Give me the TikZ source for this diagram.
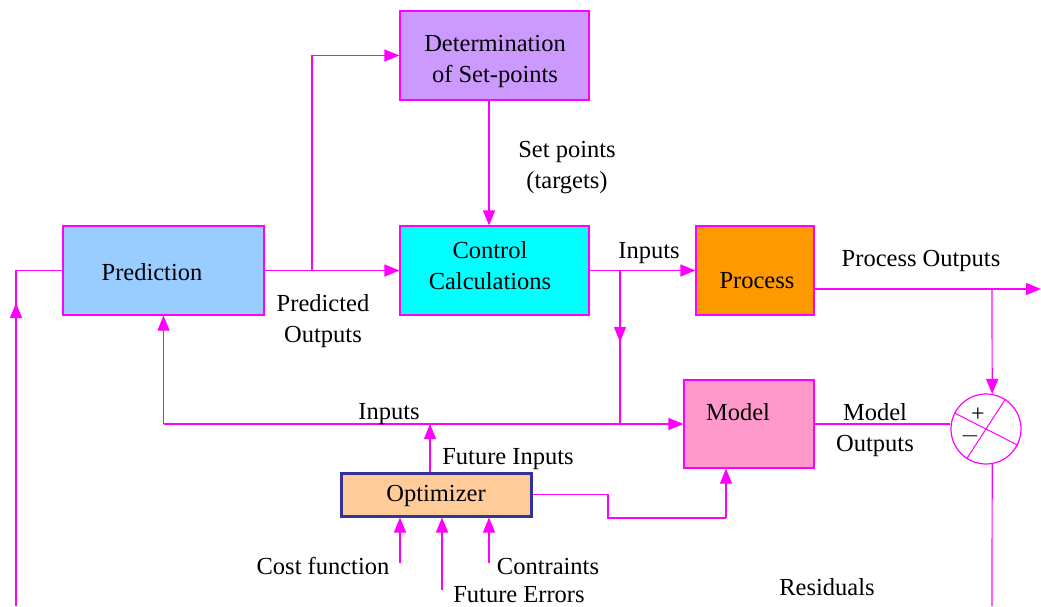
\documentclass[tikz,border=0pt]{standalone}
\usepackage{fontspec}
\setmainfont{Liberation Serif}
\usetikzlibrary{arrows.meta,calc}

\definecolor{wirecol}{HTML}{FF00FF}
\definecolor{detfill}{HTML}{CC99FF}
\definecolor{ctrlfill}{HTML}{00FFFF}
\definecolor{predfill}{HTML}{99CCFF}
\definecolor{procfill}{HTML}{FF9900}
\definecolor{modelfill}{HTML}{FF99CC}
\definecolor{optfill}{HTML}{FFCC99}
\definecolor{optline}{HTML}{333399}

\tikzset{
  blockbox/.style={draw=wirecol, line width=1.2pt, rectangle, inner sep=0pt},
  wire/.style={draw=wirecol, line width=1.2pt},
  arr/.style={wire, -{Triangle[length=15pt,width=12pt]}},
  txt/.style={font=\fontsize{24.5}{31}\selectfont, align=center, inner sep=0pt},
  sign/.style={font=\fontsize{24}{26}\selectfont, inner sep=0pt,
               text height=11pt, text depth=0pt, anchor=base},
}

\begin{document}
\begin{tikzpicture}[x=1pt, y=-1pt]
\useasboundingbox (0,0) rectangle (1041,606);

% blocks
\node[blockbox, fill=detfill, minimum width=189, minimum height=89] (det) at (494.5,55.5) {};
\node[txt] (dettext) at (495,61) {Determination\\of Set-points};
\node[blockbox, fill=ctrlfill, minimum width=189, minimum height=89] (ctrl) at (494.5,270.5) {};
\node[txt] (ctrltext) at (490,266) {Control\\Calculations};
\node[blockbox, fill=predfill, minimum width=201, minimum height=89] (pred) at (163.5,270.5) {};
\node[txt] (predtext) at (152,272) {Prediction};
\node[blockbox, fill=procfill, minimum width=118, minimum height=89] (proc) at (755,270.5) {};
\node[txt] (proctext) at (757,281) {Process};
\node[blockbox, fill=modelfill, minimum width=130, minimum height=88] (model) at (749,424) {};
\node[txt] (modeltext) at (738,412) {Model};
\node[draw=optline, line width=3pt, fill=optfill, rectangle, inner sep=0pt,
      minimum width=190, minimum height=43] (opt) at (436,494.5) {};
\node[txt] (opttext) at (436,496) {Optimizer};

% summing junction
\node[wire, circle, minimum size=70, inner sep=0pt] (sum) at (986,429) {};
\draw[wire, line width=1pt] (sum.57) -- (sum.237);
\draw[wire, line width=1pt] (sum.153) -- (sum.333);
\node[sign] (plus) at (978,421) {+};
\node[sign] (minus) at (970,442) {$-$};

% prediction to control and set-point determination
\coordinate (pj) at (312,270.5);
\draw[arr] (pred.east) -- (ctrl.west);
\draw[arr] (pj) |- (det.west);
\draw[arr] (det.south -| 489,0) -- (ctrl.north -| 489,0);

% control to process, branch down to model inputs
\coordinate (ij) at (620,270.5);
\coordinate (ib) at (620,424);
\draw[arr] (ctrl.east) -- (proc.west);
\draw[wire] (ij) -- (ib);
\draw[arr] (620,320) -- (620,342);

% inputs bus to model and prediction
\coordinate (bl) at (163.5,424);
\draw[arr] (bl) -- (model.west);
\draw[arr] (bl) -- (pred.south);

% optimizer outputs
\coordinate (fi) at (430,424);
\draw[arr] (opt.north -| fi) -- (fi);
\coordinate (oc1) at (608,494.5);
\coordinate (oc2) at (608,518);
\coordinate (mb) at (726,518);
\draw[wire] (opt.east) -- (oc1) -- (oc2) -- (mb);
\draw[arr] (mb) -- (model.south -| mb);

% optimizer inputs
\coordinate (cf) at (400,563);
\coordinate (fe) at (442,590);
\coordinate (ct) at (489,563);
\draw[arr] (cf) -- (opt.south -| cf);
\draw[arr] (fe) -- (opt.south -| fe);
\draw[arr] (ct) -- (opt.south -| ct);

% process outputs and residual path
\coordinate (po) at (814,289);
\coordinate (pend) at (1041,289);
\coordinate (sj) at (992,289);
\coordinate (rb) at (992,606);
\draw[arr] (po) -- (pend);
\draw[arr] (sj) -- (sum.80);
\draw[wire] (sum.280) -- (rb);
\draw[wire] (model.east) -- (sum.west |- model.east);

% feedback into prediction
\coordinate (fb) at (16,606);
\coordinate (fc) at (16,270.5);
\draw[wire] (fb) -- (fc) -- (pred.west);
\draw[arr] (16,330) -- (16,303);

% labels
\node[txt] (lsp) at (567,168) {Set points\\(targets)};
\node[txt] (lin1) at (649,253) {Inputs};
\node[txt] (lpo) at (921,261) {Process Outputs};
\node[txt] (lpred) at (323,321) {Predicted\\Outputs};
\node[txt] (lin2) at (389,414) {Inputs};
\node[txt] (lmo) at (875,430) {Model\\Outputs};
\node[txt] (lfi) at (508,459) {Future Inputs};
\node[txt] (lcf) at (323,566) {Cost function};
\node[txt] (lct) at (548,566) {Contraints};
\node[txt, text depth=0pt, anchor=base] (lfe) at (519,602) {Future Errors};
\node[txt] (lres) at (827,587) {Residuals};
\end{tikzpicture}
\end{document}
